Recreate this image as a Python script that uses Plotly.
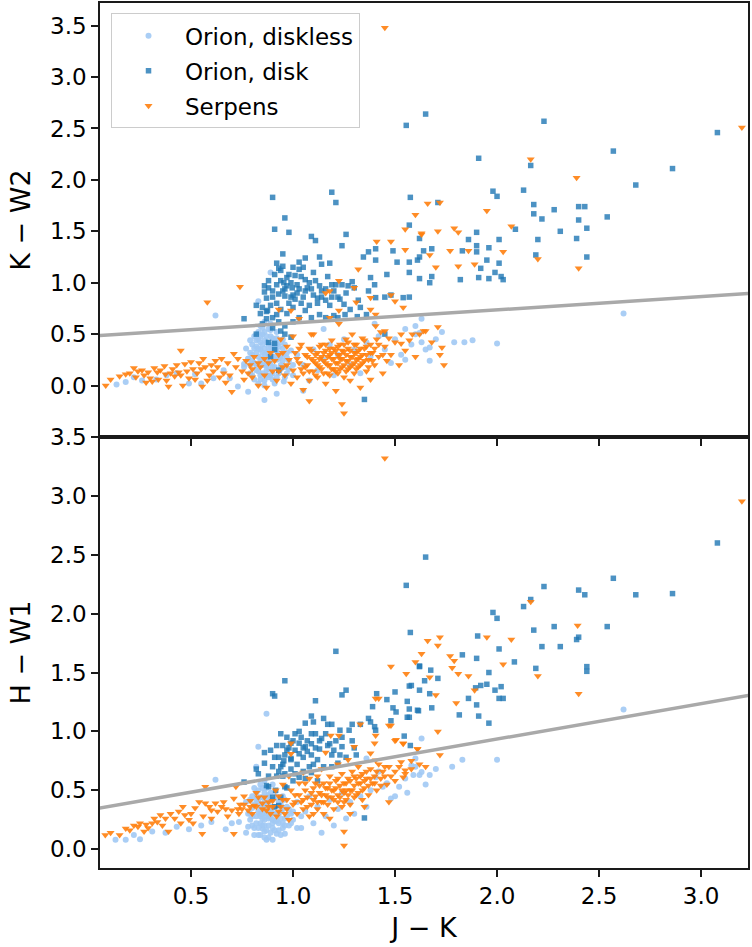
import plotly.graph_objects as go

# ---------------- data (J-K, colour) pairs ----------------
# Orion diskless, top panel (J-K, K-W2)
diskless_top = [
    (0.135, 0.01), (0.18, 0.035), (0.26, 0.05), (0.43, 0.12), (0.49, 0.02), (0.55, 0.02),
    (0.61, 0.07), (0.66, 0.15), (0.69, 0.07), (0.73, -0.01), (0.76, 0.21), (0.78, 0.26),
    (0.78, -0.06), (0.86, -0.14), (0.92, -0.08), (0.955, 0.04), (0.22, 0.08), (0.33, 0.06),
    (0.38, 0.10), (0.52, 0.11), (0.62, 0.68), (0.89, 1.10), (0.83, 0.82),
    (0.80, 0.30), (0.81, 0.22), (0.82, 0.38), (0.82, 0.15), (0.83, 0.45), (0.83, 0.28),
    (0.84, 0.10), (0.84, 0.35), (0.85, 0.20), (0.85, 0.50), (0.85, 0.40), (0.86, 0.30),
    (0.86, 0.05), (0.87, 0.25), (0.87, 0.42), (0.87, 0.15), (0.88, 0.33), (0.88, 0.55),
    (0.88, 0.22), (0.89, 0.38), (0.89, 0.10), (0.90, 0.28), (0.90, 0.46), (0.90, 0.18),
    (0.91, 0.35), (0.91, 0.02), (0.92, 0.25), (0.92, 0.40), (0.93, 0.12), (0.93, 0.31),
    (0.94, 0.20), (0.95, 0.36), (0.96, 0.08), (0.97, 0.27), (0.98, 0.16), (0.78, 0.26),
    (0.79, 0.12), (0.77, 0.36), (0.76, 0.18), (0.81, 0.48), (0.84, 0.58), (0.86, 0.62),
    (0.88, 0.08), (0.83, 0.02), (0.89, 0.48), (0.92, 0.52), (0.95, 0.45), (0.86, 0.36),
    (0.84, 0.24), (0.88, 0.28), (0.90, 0.34), (0.82, 0.32), (0.87, 0.20), (0.85, 0.12),
    (0.91, 0.44), (0.80, 0.40), (0.83, 0.52), (0.89, 0.60), (0.94, 0.28),
    (0.79, 0.20), (0.79, 0.32), (0.79, 0.44), (0.80, 0.10), (0.80, 0.24), (0.81, 0.36),
    (0.81, 0.06), (0.82, 0.20), (0.82, 0.44), (0.83, 0.36), (0.83, 0.14), (0.84, 0.42),
    (0.84, 0.48), (0.85, 0.26), (0.85, 0.32), (0.85, 0.56), (0.86, 0.20), (0.86, 0.44),
    (0.86, 0.52), (0.87, 0.32), (0.87, 0.10), (0.87, 0.48), (0.88, 0.38), (0.88, 0.16),
    (0.89, 0.22), (0.89, 0.32), (0.89, 0.54), (0.90, 0.12), (0.90, 0.40), (0.91, 0.28),
    (0.91, 0.18), (0.92, 0.34), (0.92, 0.46), (0.92, 0.08), (0.93, 0.26), (0.93, 0.38),
    (0.94, 0.16), (0.94, 0.42), (0.95, 0.24), (0.95, 0.30), (0.96, 0.18), (0.96, 0.40),
    (0.97, 0.32), (0.97, 0.12), (0.98, 0.24), (0.99, 0.34), (1.00, 0.20), (0.84, 0.06),
    (0.86, 0.00), (0.90, 0.06),
    (1.00, 0.10), (1.02, 0.30), (1.05, 0.20), (1.08, 0.05), (1.10, 0.35), (1.12, 0.15),
    (1.15, 0.25), (1.18, 0.40), (1.20, 0.10), (1.22, 0.30), (1.25, 0.45), (1.28, 0.20),
    (1.30, 0.35), (1.33, 0.12), (1.36, 0.42), (1.38, 0.28), (1.42, 0.48), (1.45, 0.35),
    (1.48, 0.22), (1.50, 0.45), (1.53, 0.30), (1.55, 0.55), (1.58, 0.40), (1.60, 0.50),
    (1.63, 0.65), (1.62, 0.51), (1.63, 0.42), (1.65, 0.35), (1.67, 0.37), (1.67, 0.24),
    (1.70, 0.45), (1.73, 0.52), (1.79, 0.42), (1.84, 0.42), (1.88, 0.44), (2.00, 0.41),
    (2.62, 0.70), (1.60, 0.58), (1.55, 0.25), (1.05, -0.05), (1.15, 0.55), (1.40, 0.60),
]

# Orion with disk, top panel (J-K, K-W2)
disk_top = [
    (1.65, 2.64), (2.23, 2.57), (3.08, 2.46), (1.555, 2.53), (2.57, 2.28), (2.86, 2.11),
    (2.68, 1.95), (1.91, 2.21), (2.165, 2.14), (1.98, 1.89), (2.00, 1.84), (2.13, 1.90),
    (2.18, 1.76), (2.18, 1.67), (2.22, 1.62), (2.28, 1.71), (2.40, 1.74), (2.43, 1.74),
    (2.40, 1.61), (2.54, 1.64), (2.44, 1.53), (2.31, 1.50), (2.39, 1.43), (2.44, 1.25),
    (1.90, 1.49), (1.86, 1.42), (2.01, 1.42), (1.90, 1.36), (1.96, 1.34), (1.83, 1.31),
    (1.90, 1.30), (2.09, 1.52), (2.20, 1.42), (2.19, 1.27), (1.95, 1.22), (2.01, 1.19),
    (1.92, 1.14), (1.99, 1.10), (1.91, 1.05), (1.96, 1.04), (2.02, 1.06), (2.03, 1.03),
    (1.82, 1.03), (1.68, 1.06), (1.67, 1.00), (1.64, 1.31), (1.68, 1.33), (1.62, 1.43),
    (1.62, 1.25), (1.71, 1.78),
    (0.90, 1.83), (1.19, 1.88), (1.21, 1.78), (1.575, 1.83), (0.96, 1.63), (0.91, 1.52),
    (0.98, 1.49), (1.09, 1.45), (1.11, 1.41), (1.26, 1.47), (1.24, 1.36), (1.13, 1.25),
    (1.06, 1.24), (1.03, 1.20), (1.18, 1.19), (1.14, 1.18), (0.92, 1.19), (0.93, 1.14),
    (1.03, 1.13), (0.94, 1.12), (1.01, 1.07), (0.97, 1.05), (1.06, 1.03), (1.11, 1.02),
    (1.17, 1.06), (1.19, 0.98), (1.21, 0.98), (1.29, 1.01), (1.27, 0.97), (1.30, 0.95),
    (0.955, 1.00), (0.97, 0.97), (0.996, 0.95), (1.03, 0.94), (1.07, 0.95), (1.09, 0.94),
    (1.13, 0.97), (0.86, 0.91), (0.90, 0.92), (0.93, 0.89), (0.96, 0.87), (0.99, 0.86),
    (1.01, 0.84), (1.05, 0.86), (1.12, 0.85), (1.16, 0.83), (1.19, 0.86), (1.22, 0.86),
    (1.23, 0.84), (1.25, 0.79), (1.37, 0.92), (1.405, 0.855), (1.38, 1.05), (1.405, 1.33),
    (1.37, 1.30), (1.405, 1.22), (1.345, 1.25), (1.46, 1.08), (1.51, 1.20), (1.49, 1.31),
    (1.57, 1.56), (1.61, 1.22), (1.57, 1.20), (1.57, 1.10), (1.62, 1.04), (1.54, 0.855),
    (1.57, 0.86), (1.48, 0.88), (1.45, 0.86), (1.40, 0.98),
    (0.82, 0.78), (0.85, 0.76), (0.875, 0.73), (0.90, 0.66), (0.92, 0.69), (0.87, 0.65),
    (0.85, 0.60), (0.76, 0.65), (0.82, 0.50), (0.88, 0.42), (0.91, 0.41), (0.91, 0.35),
    (0.94, 0.53), (0.96, 0.50), (0.99, 0.47), (1.03, 0.66), (1.06, 0.73), (1.09, 0.66),
    (1.13, 0.69), (1.16, 0.66), (1.20, 0.68), (1.22, 0.66), (1.255, 0.69), (1.315, 0.67),
    (1.36, 0.69), (1.45, 0.50), (0.89, 0.28), (0.93, 0.15), (1.35, -0.135),
    (0.88, 1.02), (0.92, 0.98), (0.95, 0.92), (0.98, 0.80), (1.00, 0.76), (1.02, 0.90),
    (0.87, 0.85), (0.89, 0.78), (0.94, 0.74), (0.97, 0.70), (1.00, 0.62), (0.84, 0.70),
    (1.04, 0.80), (1.08, 0.78), (0.91, 1.08), (0.95, 1.16), (0.86, 0.97), (0.99, 1.00),
    (1.10, 0.88), (1.14, 0.92), (1.26, 0.90), (1.32, 0.83), (1.33, 0.76), (1.28, 0.74),
    (0.88, 0.95), (0.90, 0.86), (0.92, 0.80), (0.94, 1.02), (0.96, 0.94), (0.98, 1.08),
    (1.00, 0.88), (1.02, 0.98), (1.04, 1.06), (1.06, 0.92), (1.08, 1.00), (1.10, 1.10),
    (1.12, 0.80), (1.14, 0.86), (1.16, 0.94), (1.18, 0.78), (1.20, 0.92), (1.24, 0.98),
    (0.87, 0.72), (0.93, 0.62), (0.96, 0.58), (0.90, 0.56), (1.00, 1.15), (0.95, 1.28),
    (1.05, 1.15),
]

# Serpens, top panel (J-K, K-W2)
serpens_top = [
    (0.082, 0.00), (0.106, 0.06), (0.18, 0.11), (0.22, 0.17), (0.24, 0.14), (0.26, 0.15),
    (0.28, 0.03), (0.31, 0.04), (0.335, 0.13), (0.35, 0.15), (0.375, 0.11), (0.39, -0.01),
    (0.41, 0.16), (0.44, 0.13), (0.45, 0.34), (0.46, 0.00), (0.47, 0.21), (0.49, 0.07),
    (0.51, 0.16), (0.54, 0.22), (0.555, -0.01), (0.57, 0.18), (0.59, 0.10), (0.62, 0.24),
    (0.64, 0.08), (0.67, 0.03), (0.70, -0.06), (0.71, 0.31), (0.58, 0.81), (0.74, 0.96),
    (0.15, 0.09), (0.20, 0.12), (0.23, 0.08), (0.27, 0.10), (0.29, 0.13), (0.30, 0.07),
    (0.32, 0.17), (0.34, 0.06), (0.37, 0.19), (0.38, 0.05), (0.40, 0.12), (0.42, 0.09),
    (0.43, 0.20), (0.45, 0.10), (0.48, 0.14), (0.50, 0.23), (0.52, 0.06), (0.53, 0.12),
    (0.55, 0.16), (0.56, 0.26), (0.58, 0.05), (0.60, 0.20), (0.61, 0.14), (0.63, 0.18),
    (0.65, 0.26), (0.66, 0.12), (0.68, 0.22), (0.69, 0.10), (0.72, 0.18), (0.73, 0.26),
    (0.75, 0.14), (0.76, 0.06), (0.77, 0.24), (0.79, 0.20), (0.80, 0.08), (0.81, 0.28),
    (0.83, 0.00), (0.84, 0.18), (0.86, 0.10), (0.87, -0.02), (0.88, 0.22), (0.90, 0.14),
    (0.92, 0.05), (0.93, 0.30), (0.94, 0.45), (0.95, 0.18), (0.96, 0.10), (0.97, 0.38),
    (0.98, 0.25), (0.99, 0.02), (1.00, 0.15), (1.00, 0.48), (1.01, 0.32), (1.02, 0.08),
    (1.03, 0.22), (1.04, 0.40), (1.05, -0.04), (1.05, 0.12), (1.06, 0.30), (1.07, 0.20),
    (1.08, -0.15), (1.08, 0.05), (1.08, 0.36), (1.09, 0.26), (1.10, 0.14), (1.10, 0.50),
    (1.11, 0.22), (1.12, 0.32), (1.12, 0.08), (1.13, 0.18), (1.14, 0.28), (1.14, 0.40),
    (1.15, 0.12), (1.15, 0.24), (1.16, 0.34), (1.16, 0.02), (1.17, 0.20), (1.18, 0.30),
    (1.18, 0.10), (1.19, 0.26), (1.19, 0.44), (1.20, 0.16), (1.20, 0.36), (1.21, 0.22),
    (1.21, -0.05), (1.22, 0.30), (1.22, 0.12), (1.23, 0.26), (1.23, 0.40), (1.24, 0.18),
    (1.24, -0.18), (1.25, 0.33), (1.25, -0.27), (1.25, 0.08), (1.26, 0.24), (1.26, 0.45),
    (1.27, 0.16), (1.27, 0.36), (1.28, 0.28), (1.28, 0.05), (1.29, 0.20), (1.29, 0.50),
    (1.30, 0.32), (1.30, 0.12), (1.31, 0.25), (1.31, 0.40), (1.32, 0.18), (1.32, 0.34),
    (1.33, 0.28), (1.33, -0.02), (1.34, 0.22), (1.34, 0.46), (1.35, 0.36), (1.36, 0.14),
    (1.36, 0.30), (1.37, 0.25), (1.38, 0.40), (1.38, 0.06), (1.39, 0.32), (1.40, 0.20),
    (1.41, 0.45), (1.42, 0.28), (1.43, 0.52), (1.44, 0.12), (1.45, 0.38), (1.46, 0.24),
    (1.47, 0.46), (1.48, 0.30), (1.50, 0.42), (1.52, 0.20), (1.53, 0.50), (1.55, 0.34),
    (1.57, 0.44), (1.60, 0.28), (1.62, 0.50), (1.65, 0.53), (1.71, 0.57), (1.73, 0.37),
    (1.72, 0.30), (1.74, 0.20), (1.68, 0.42),
    (1.06, 0.18), (1.07, 0.28), (1.08, 0.14), (1.09, 0.34), (1.10, 0.24), (1.11, 0.10),
    (1.11, 0.30), (1.12, 0.20), (1.13, 0.26), (1.13, 0.38), (1.14, 0.16), (1.15, 0.32),
    (1.16, 0.22), (1.16, 0.40), (1.17, 0.28), (1.17, 0.12), (1.18, 0.20), (1.18, 0.36),
    (1.19, 0.32), (1.19, 0.16), (1.20, 0.26), (1.21, 0.34), (1.21, 0.14), (1.22, 0.22),
    (1.22, 0.38), (1.23, 0.30), (1.23, 0.16), (1.24, 0.26), (1.24, 0.34), (1.25, 0.20),
    (1.25, 0.40), (1.26, 0.30), (1.26, 0.14), (1.27, 0.24), (1.27, 0.42), (1.28, 0.34),
    (1.28, 0.18), (1.29, 0.28), (1.30, 0.22), (1.30, 0.40), (1.31, 0.32), (1.31, 0.16),
    (1.32, 0.26), (1.33, 0.36), (1.33, 0.20), (1.34, 0.30), (1.35, 0.24), (1.35, 0.44),
    (1.36, 0.38), (1.37, 0.18), (1.38, 0.32), (1.39, 0.24), (1.40, 0.36), (1.42, 0.40),
    (1.44, 0.30), (1.02, 0.26), (1.03, 0.36), (1.04, 0.16), (0.97, 0.20), (0.95, 0.32),
    (0.93, 0.14), (0.91, 0.24), (0.89, 0.32), (0.86, 0.26), (0.83, 0.22), (0.80, 0.16),
    (0.78, 0.12),
    (0.93, 0.74), (0.99, 0.73), (1.03, 0.65), (1.16, 0.90), (1.18, 0.92), (1.225, 1.02),
    (1.30, 0.95), (1.225, 0.73), (1.31, 0.81), (1.38, 0.855), (1.38, 0.74), (1.405, 0.69),
    (1.48, 0.88), (1.50, 0.82), (1.54, 0.76), (1.41, 1.40), (1.48, 1.40), (1.55, 1.32),
    (1.60, 1.66), (1.63, 1.48), (1.55, 1.52), (1.66, 1.77), (1.32, 1.13), (1.18, 0.66),
    (1.09, 0.50), (1.225, 0.60), (1.405, 0.58), (1.45, 0.53), (1.53, 0.41), (1.585, 0.50),
    (1.64, 0.53),
    (1.72, 1.78), (1.95, 1.70), (1.63, 1.47), (1.71, 1.50), (1.79, 1.53), (1.81, 1.49),
    (2.07, 1.55), (1.67, 1.27), (1.77, 1.31), (1.86, 1.31), (2.03, 1.30), (1.70, 1.15),
    (1.81, 1.16), (1.89, 1.18), (2.20, 1.23), (2.40, 1.14), (2.165, 2.20), (2.39, 2.02),
    (3.20, 2.51), (1.45, 3.48),
]

# Orion diskless, bottom panel (J-K, H-W1)
diskless_bottom = [
    (0.13, 0.08), (0.18, 0.08), (0.25, 0.085), (0.375, 0.14), (0.43, 0.19), (0.49, 0.17),
    (0.60, 0.23), (0.67, 0.17), (0.70, 0.22), (0.735, 0.23), (0.77, 0.14), (0.78, 0.19),
    (0.85, 0.175), (0.96, 0.13), (0.22, 0.12), (0.31, 0.15), (0.55, 0.20),
    (0.79, 0.25), (0.80, 0.35), (0.81, 0.18), (0.82, 0.42), (0.82, 0.28), (0.83, 0.12),
    (0.83, 0.50), (0.84, 0.22), (0.84, 0.36), (0.85, 0.30), (0.85, 0.44), (0.86, 0.15),
    (0.86, 0.25), (0.87, 0.38), (0.87, 0.52), (0.88, 0.20), (0.88, 0.32), (0.88, 0.10),
    (0.89, 0.42), (0.89, 0.27), (0.90, 0.18), (0.90, 0.35), (0.91, 0.48), (0.91, 0.24),
    (0.92, 0.30), (0.92, 0.13), (0.93, 0.40), (0.93, 0.22), (0.94, 0.32), (0.95, 0.18),
    (0.95, 0.45), (0.96, 0.26), (0.97, 0.36), (0.98, 0.20), (0.99, 0.30), (0.80, 0.45),
    (0.84, 0.55), (0.86, 0.58), (0.90, 0.55), (0.87, 0.08), (0.83, 0.32), (0.86, 0.34),
    (0.89, 0.36), (0.85, 0.20), (0.91, 0.30), (0.88, 0.46), (0.94, 0.12), (0.78, 0.30),
    (0.77, 0.40), (0.81, 0.52), (0.84, 0.28), (0.87, 0.30), (0.90, 0.25), (0.86, 0.48),
    (0.79, 0.30), (0.79, 0.42), (0.80, 0.20), (0.80, 0.28), (0.81, 0.38), (0.81, 0.12),
    (0.82, 0.22), (0.82, 0.48), (0.83, 0.40), (0.83, 0.18), (0.84, 0.44), (0.84, 0.12),
    (0.85, 0.26), (0.85, 0.36), (0.85, 0.52), (0.86, 0.20), (0.86, 0.40), (0.87, 0.28),
    (0.87, 0.44), (0.87, 0.16), (0.88, 0.38), (0.88, 0.26), (0.89, 0.14), (0.89, 0.48),
    (0.89, 0.32), (0.90, 0.22), (0.90, 0.42), (0.91, 0.36), (0.91, 0.16), (0.92, 0.24),
    (0.92, 0.44), (0.93, 0.30), (0.93, 0.16), (0.94, 0.26), (0.94, 0.38), (0.95, 0.22),
    (0.95, 0.34), (0.96, 0.20), (0.96, 0.42), (0.97, 0.28), (0.98, 0.34), (0.99, 0.22),
    (1.00, 0.32), (1.02, 0.18), (1.04, 0.28), (0.86, 0.10), (0.90, 0.08), (0.84, 0.30),
    (1.00, 0.25), (1.02, 0.40), (1.04, 0.18), (1.06, 0.32), (1.08, 0.45), (1.10, 0.22),
    (1.12, 0.36), (1.14, 0.14), (1.16, 0.28), (1.18, 0.42), (1.20, 0.20), (1.22, 0.34),
    (1.24, 0.48), (1.26, 0.26), (1.28, 0.40), (1.30, 0.30), (1.33, 0.45), (1.36, 0.36),
    (1.38, 0.50),
    (1.44, 0.53), (1.46, 0.56), (1.405, 0.61), (1.52, 0.53), (1.58, 0.71), (1.60, 0.70),
    (1.62, 0.63), (1.67, 0.63), (1.48, 0.43), (1.36, 0.77), (1.59, 0.63), (1.60, 0.77),
    (1.63, 0.655), (1.78, 0.70), (1.83, 0.76), (2.00, 0.76), (1.63, 0.94), (2.62, 1.185),
    (1.55, 0.60), (1.50, 0.45), (1.42, 0.66), (1.56, 0.48), (1.65, 0.55), (1.70, 0.68),
    (0.87, 1.15), (0.83, 0.87), (0.62, 0.59), (0.82, 0.70),
]

# Orion with disk, bottom panel (J-K, H-W1)
disk_bottom = [
    (3.08, 2.60), (1.65, 2.48), (1.555, 2.24), (2.23, 2.23), (2.57, 2.30), (2.68, 2.16),
    (2.86, 2.17), (2.40, 2.20), (2.43, 2.16), (2.165, 2.12), (2.13, 2.06), (1.98, 2.01),
    (2.00, 1.96), (2.18, 1.86), (2.28, 1.89), (2.54, 1.89), (2.40, 1.80), (2.39, 1.78),
    (2.22, 1.72), (2.31, 1.72), (2.01, 1.70), (1.905, 1.81), (1.83, 1.65), (1.90, 1.62),
    (2.085, 1.59), (2.19, 1.535), (2.44, 1.55), (2.44, 1.51), (1.575, 1.84), (1.62, 1.555),
    (1.675, 1.52), (1.645, 1.43), (1.71, 1.45), (1.96, 1.50), (1.95, 1.40), (1.92, 1.39),
    (1.895, 1.37), (1.99, 1.35), (2.02, 1.38), (2.01, 1.28), (2.03, 1.28), (1.86, 1.28),
    (1.90, 1.225), (1.815, 1.14), (1.91, 1.13), (1.96, 1.07), (1.50, 1.335), (1.57, 1.385),
    (1.62, 1.35), (1.67, 1.32), (1.46, 1.27), (1.49, 1.20), (1.505, 1.165), (1.57, 1.19),
    (1.615, 1.175), (1.68, 1.20), (1.56, 1.12), (1.48, 1.09), (1.545, 0.96), (1.575, 0.88),
    (1.21, 1.68), (0.96, 1.43), (0.90, 1.32), (0.91, 1.30), (1.11, 1.26), (1.26, 1.35),
    (1.24, 1.31), (1.41, 1.32), (1.62, 1.55), (1.58, 1.39), (1.56, 1.255), (1.61, 1.18),
    (1.57, 1.12), (1.39, 1.21), (1.37, 1.11), (1.38, 1.08), (1.40, 1.04), (1.405, 1.01),
    (1.09, 1.13), (1.06, 1.07), (1.10, 1.08), (1.15, 1.11), (1.17, 1.06), (1.19, 1.06),
    (1.23, 1.01), (1.275, 1.01), (1.29, 1.06), (1.33, 1.06),
    (0.82, 0.68), (0.76, 0.57), (0.86, 0.73), (0.83, 0.64), (0.88, 0.53), (0.915, 0.50),
    (0.90, 0.44), (0.91, 0.36), (0.93, 0.37), (0.87, 0.54), (0.94, 0.44), (0.96, 0.53),
    (1.35, 0.265), (0.955, 0.75), (0.99, 0.77), (1.03, 0.81), (1.06, 0.87), (1.09, 0.895),
    (1.13, 0.85), (1.18, 0.895), (1.21, 0.92), (1.22, 0.73), (1.24, 0.87), (1.29, 0.92),
    (1.31, 0.80), (1.12, 0.58), (1.09, 0.65), (1.03, 0.61), (0.96, 0.64),
    (0.92, 0.62), (0.94, 0.70), (0.96, 0.80), (0.98, 0.86), (1.00, 0.92), (0.97, 0.95),
    (1.01, 0.98), (1.04, 0.95), (0.95, 0.88), (0.93, 0.78), (0.99, 0.68), (1.02, 0.72),
    (1.05, 0.78), (1.07, 0.83), (1.00, 0.58), (0.90, 0.70), (0.88, 0.62), (0.86, 0.82),
    (0.92, 0.88), (1.08, 0.70), (1.12, 0.76), (1.15, 0.70), (1.14, 0.94), (1.16, 0.98),
    (1.20, 0.84), (1.26, 0.78), (1.11, 0.98), (1.05, 0.66), (0.97, 0.52), (0.94, 0.98),
    (1.03, 1.00), (0.99, 0.76), (1.09, 0.98), (1.19, 0.70), (1.24, 0.95), (1.30, 0.86),
    (0.93, 0.66), (0.95, 0.72), (0.97, 0.84), (0.99, 0.90), (1.01, 0.84), (1.03, 0.90),
    (1.05, 0.86), (1.07, 0.92), (1.09, 0.80), (1.11, 0.86), (1.13, 0.92), (1.17, 0.88),
    (1.19, 0.80), (1.23, 0.80), (0.91, 0.78), (0.89, 0.84), (0.95, 0.62), (1.01, 0.64),
    (1.06, 0.60), (1.10, 0.72),
]

# Serpens, bottom panel (J-K, H-W1)
serpens_bottom = [
    (0.08, 0.12), (0.106, 0.14), (0.18, 0.175), (0.22, 0.20), (0.24, 0.19), (0.25, 0.22),
    (0.27, 0.15), (0.28, 0.21), (0.31, 0.22), (0.335, 0.23), (0.35, 0.29), (0.375, 0.26),
    (0.39, 0.15), (0.40, 0.30), (0.44, 0.32), (0.46, 0.36), (0.47, 0.29), (0.49, 0.25),
    (0.51, 0.22), (0.54, 0.40), (0.555, 0.13), (0.57, 0.39), (0.59, 0.36), (0.60, 0.33),
    (0.62, 0.39), (0.65, 0.36), (0.67, 0.34), (0.70, 0.33), (0.71, 0.13), (0.71, 0.43),
    (0.72, 0.53), (0.57, 0.53), (0.735, 0.30), (0.75, 0.34), (0.78, 0.33), (0.79, 0.41),
    (0.81, 0.37), (0.83, 0.44), (0.85, 0.39), (0.87, 0.33), (0.89, 0.30), (0.90, 0.41),
    (0.915, 0.50), (0.15, 0.12), (0.20, 0.16), (0.29, 0.18), (0.32, 0.26), (0.36, 0.20),
    (0.42, 0.26), (0.45, 0.22), (0.50, 0.30), (0.52, 0.35), (0.56, 0.28), (0.60, 0.26),
    (0.63, 0.32), (0.66, 0.40), (0.68, 0.28), (0.74, 0.38), (0.76, 0.45), (0.80, 0.30),
    (0.82, 0.48), (0.86, 0.44), (0.88, 0.36),
    (0.92, 0.28), (0.93, 0.45), (0.94, 0.36), (0.95, 0.55), (0.96, 0.30), (0.97, 0.42),
    (0.98, 0.25), (0.99, 0.50), (1.00, 0.38), (1.01, 0.46), (1.02, 0.30), (1.03, 0.56),
    (1.04, 0.40), (1.05, 0.34), (1.06, 0.50), (1.07, 0.44), (1.08, 0.28), (1.08, 0.60),
    (1.09, 0.38), (1.10, 0.52), (1.11, 0.45), (1.12, 0.34), (1.12, 0.62), (1.13, 0.48),
    (1.14, 0.40), (1.15, 0.56), (1.15, 0.30), (1.16, 0.46), (1.17, 0.52), (1.17, 0.38),
    (1.18, 0.62), (1.19, 0.44), (1.20, 0.50), (1.20, 0.34), (1.21, 0.58), (1.22, 0.46),
    (1.22, 0.40), (1.23, 0.54), (1.24, 0.64), (1.24, 0.36), (1.25, 0.48), (1.26, 0.56),
    (1.26, 0.42), (1.27, 0.60), (1.28, 0.50), (1.28, 0.38), (1.29, 0.66), (1.30, 0.54),
    (1.30, 0.44), (1.31, 0.60), (1.32, 0.48), (1.32, 0.70), (1.33, 0.56), (1.34, 0.42),
    (1.34, 0.64), (1.35, 0.52), (1.36, 0.60), (1.37, 0.46), (1.38, 0.68), (1.39, 0.56),
    (1.40, 0.62), (1.41, 0.50), (1.42, 0.72), (1.43, 0.60), (1.44, 0.66), (1.46, 0.55),
    (1.47, 0.70), (1.48, 0.62), (1.50, 0.58), (1.52, 0.70), (1.55, 0.64), (1.58, 0.68),
    (1.62, 0.72), (1.65, 0.70), (1.05, 0.65), (1.10, 0.30), (1.18, 0.26), (1.28, 0.30),
    (0.98, 0.62), (1.14, 0.68), (1.22, 0.72), (1.35, 0.36),
    (1.01, 0.40), (1.03, 0.46), (1.05, 0.42), (1.06, 0.56), (1.07, 0.36), (1.09, 0.48),
    (1.10, 0.42), (1.11, 0.56), (1.12, 0.40), (1.13, 0.54), (1.14, 0.46), (1.15, 0.40),
    (1.16, 0.52), (1.17, 0.44), (1.18, 0.56), (1.19, 0.50), (1.20, 0.42), (1.21, 0.52),
    (1.22, 0.60), (1.23, 0.44), (1.24, 0.50), (1.25, 0.56), (1.25, 0.40), (1.26, 0.50),
    (1.27, 0.46), (1.28, 0.58), (1.29, 0.50), (1.30, 0.62), (1.31, 0.46), (1.32, 0.56),
    (1.33, 0.62), (1.34, 0.50), (1.35, 0.58), (1.36, 0.66), (1.37, 0.54), (1.38, 0.60),
    (1.40, 0.56), (1.41, 0.66), (1.43, 0.54), (1.45, 0.62), (0.97, 0.34), (0.95, 0.42),
    (0.93, 0.32), (0.90, 0.36), (0.88, 0.40), (0.85, 0.34), (0.82, 0.36), (0.79, 0.36),
    (0.76, 0.38), (0.73, 0.34),
    (1.185, 0.965), (1.225, 0.965), (1.33, 1.06), (1.405, 1.28), (1.405, 0.965), (1.40, 0.90),
    (1.48, 1.05), (1.50, 0.92), (1.54, 0.90), (1.61, 0.85), (0.99, 0.90), (0.99, 0.81),
    (1.16, 0.82), (1.30, 0.87), (1.38, 0.815), (1.27, 0.76), (1.53, 0.74), (1.58, 0.75),
    (1.405, 0.755), (1.45, 0.70), (1.50, 0.66), (1.55, 0.67), (1.54, 0.61), (1.47, 0.40),
    (1.25, 0.15), (1.25, 0.03),
    (1.45, 3.32), (3.20, 2.955), (2.165, 2.10), (2.395, 1.90), (1.95, 1.80), (2.07, 1.78),
    (1.66, 1.77), (1.72, 1.80), (1.71, 1.73), (1.63, 1.66), (1.60, 1.59), (1.77, 1.64),
    (1.79, 1.60), (1.78, 1.54), (1.81, 1.49), (1.86, 1.47), (2.03, 1.57), (1.67, 1.46),
    (1.555, 1.49), (1.48, 1.55), (2.20, 1.47), (2.40, 1.32), (1.70, 1.31), (1.89, 1.35),
    (1.80, 1.24), (1.47, 1.05), (1.71, 1.00), (1.505, 0.93), (1.54, 0.895), (1.61, 0.85),
    (1.72, 0.80), (1.42, 1.28),
]

# Grey separation lines (end points in J-K and colour)
line_jk = [0.0, 3.3]
line_kw2 = [0.479, 0.903]
line_hw1 = [0.334, 1.325]

legend_names = ["Orion, diskless", "Orion, disk", "Serpens"]
x_ticks = [0.5, 1.0, 1.5, 2.0, 2.5, 3.0]
y_ticks = [0.0, 0.5, 1.0, 1.5, 2.0, 2.5, 3.0, 3.5]

# ---------------- styling ----------------
C_DISKLESS = "rgba(161,201,244,0.9)"
C_DISK = "rgba(31,119,180,0.8)"
C_SERP = "rgba(255,127,14,0.9)"
FONT = "DejaVu Sans"

def xs(p):
    return [a for a, b in p]

def ys(p):
    return [b for a, b in p]

fig = go.Figure()

styles = [
    (legend_names[0], C_DISKLESS, "circle", 6),
    (legend_names[1], C_DISK, "square", 5.5),
    (legend_names[2], C_SERP, "triangle-down", 7),
]

top_sets = [diskless_top, disk_top, serpens_top]
bot_sets = [diskless_bottom, disk_bottom, serpens_bottom]

for i, (name, col, sym, sz) in enumerate(styles):
    fig.add_trace(go.Scatter(
        x=xs(top_sets[i]), y=ys(top_sets[i]), mode="markers", name=name,
        legendgroup=name, showlegend=True,
        marker=dict(color=col, symbol=sym, size=sz, line=dict(width=0)),
        xaxis="x2", yaxis="y2"))
    fig.add_trace(go.Scatter(
        x=xs(bot_sets[i]), y=ys(bot_sets[i]), mode="markers", name=name,
        legendgroup=name, showlegend=False,
        marker=dict(color=col, symbol=sym, size=sz, line=dict(width=0)),
        xaxis="x", yaxis="y"))

fig.add_trace(go.Scatter(x=line_jk, y=line_kw2, mode="lines", showlegend=False,
                         line=dict(color="#a9a9a9", width=3.5), xaxis="x2", yaxis="y2"))
fig.add_trace(go.Scatter(x=line_jk, y=line_hw1, mode="lines", showlegend=False,
                         line=dict(color="#a9a9a9", width=3.5), xaxis="x", yaxis="y"))

split = 0.4983
axis_common = dict(showline=True, mirror=True, linecolor="#1a1a1a", linewidth=1.5,
                   ticks="outside", ticklen=7, tickwidth=1.5, tickcolor="#1a1a1a",
                   showgrid=False, zeroline=False, automargin=False,
                   tickfont=dict(family=FONT, size=23, color="black"))
TITLE_FONT = dict(family=FONT, size=27, color="black")

fig.update_layout(
    width=752, height=947,
    margin=dict(l=100, r=4, t=3, b=79),
    plot_bgcolor="white", paper_bgcolor="white",
    font=dict(family=FONT, size=23, color="black"),
    xaxis=dict(domain=[0, 1], anchor="y", range=[0.054, 3.23], tickvals=x_ticks,
               ticktext=[f"{v:.1f}" for v in x_ticks],
               title=dict(text="J − K", font=TITLE_FONT, standoff=10),
               **axis_common),
    yaxis=dict(domain=[0, split], anchor="x", range=[-0.16, 3.5], tickvals=y_ticks,
               ticktext=[f"{v:.1f}" for v in y_ticks],
               title=dict(text="H − W1", font=TITLE_FONT, standoff=12),
               **axis_common),
    xaxis2=dict(domain=[0, 1], anchor="y2", matches="x", range=[0.054, 3.23],
                tickvals=x_ticks, showticklabels=False, **axis_common),
    yaxis2=dict(domain=[split, 1], anchor="x2", range=[-0.5, 3.72], tickvals=y_ticks,
                ticktext=[f"{v:.1f}" for v in y_ticks],
                title=dict(text="K − W2", font=TITLE_FONT, standoff=12),
                **axis_common),
    legend=dict(x=0.017, y=0.988, xanchor="left", yanchor="top",
                bgcolor="rgba(255,255,255,0.8)", bordercolor="#cccccc", borderwidth=1,
                font=dict(family=FONT, size=23), traceorder="grouped",
                tracegroupgap=2, itemwidth=63),
)

# remove the browser's default page margin so the figure fills the window exactly
fig.write_html(
    "out.html",
    config={"displayModeBar": False},
    post_script="document.body.style.margin='0';"
                "document.body.style.overflow='hidden';"
                "document.documentElement.style.overflow='hidden';",
)
